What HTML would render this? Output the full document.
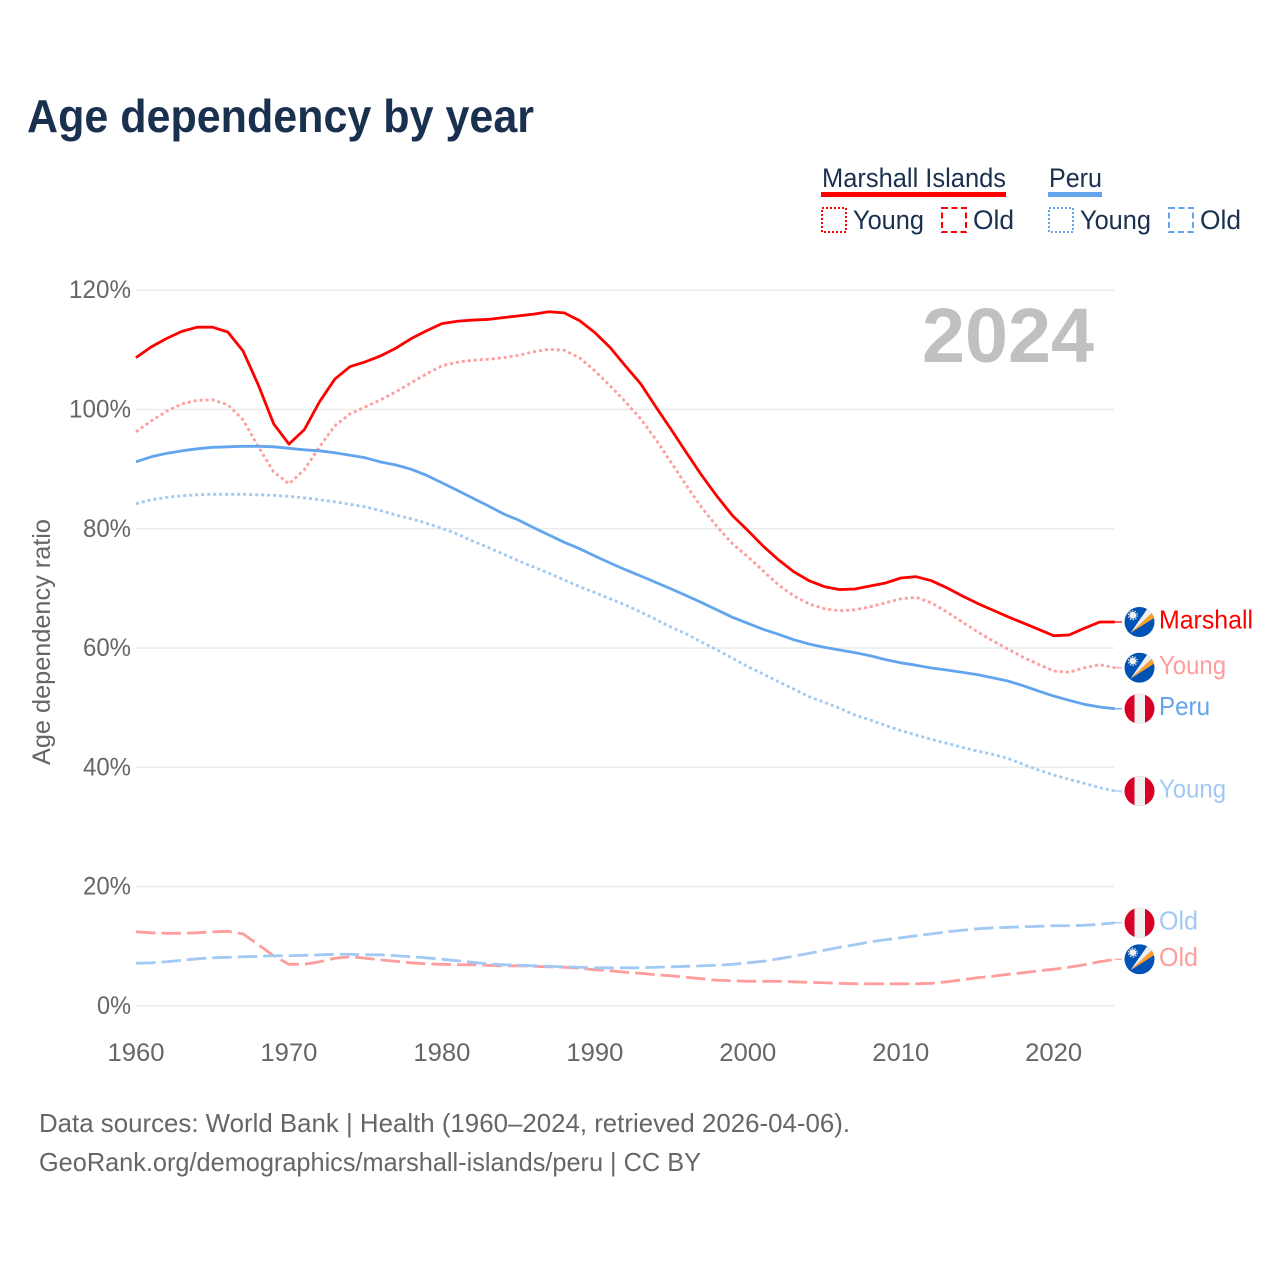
<!DOCTYPE html>
<html lang="en">
<head>
<meta charset="utf-8">
<title>Age dependency by year</title>
<style>
html,body{margin:0;padding:0;background:#fff;}
svg{display:block;}
text{font-family:"Liberation Sans",sans-serif;}
</style>
</head>
<body>
<svg id="chart" xmlns="http://www.w3.org/2000/svg" width="1280" height="1280" viewBox="0 0 1280 1280">
  <rect x="0" y="0" width="1280" height="1280" fill="#ffffff"/>
  <text x="27" y="132" font-size="46" font-weight="700" fill="#19304f" textLength="507" lengthAdjust="spacingAndGlyphs">Age dependency by year</text>

  <g>
    <text x="822" y="187" font-size="27" fill="#19304f" textLength="184" lengthAdjust="spacingAndGlyphs">Marshall Islands</text>
    <rect x="821" y="192" width="185" height="5" fill="#ff0000"/>
    <text x="1049" y="187" font-size="27" fill="#19304f" textLength="53" lengthAdjust="spacingAndGlyphs">Peru</text>
    <rect x="1048" y="192" width="54" height="5" fill="#62a5ee"/>
    <rect x="822" y="208" width="24" height="24" fill="none" stroke="#ff0000" stroke-width="2" stroke-dasharray="2,2"/>
    <text x="853" y="229" font-size="27" fill="#19304f" textLength="71" lengthAdjust="spacingAndGlyphs">Young</text>
    <rect x="942" y="208" width="24" height="24" fill="none" stroke="#ff0000" stroke-width="2" stroke-dasharray="6,3.5"/>
    <text x="973" y="229" font-size="27" fill="#19304f" textLength="41" lengthAdjust="spacingAndGlyphs">Old</text>
    <rect x="1049" y="208" width="24" height="24" fill="none" stroke="#62a5ee" stroke-width="2" stroke-dasharray="2,2"/>
    <text x="1080" y="229" font-size="27" fill="#19304f" textLength="71" lengthAdjust="spacingAndGlyphs">Young</text>
    <rect x="1169" y="208" width="24" height="24" fill="none" stroke="#62a5ee" stroke-width="2" stroke-dasharray="6,3.5"/>
    <text x="1200" y="229" font-size="27" fill="#19304f" textLength="41" lengthAdjust="spacingAndGlyphs">Old</text>
  </g>

  <text transform="translate(50,642) rotate(-90)" text-anchor="middle" font-size="25" fill="#666666" textLength="246" lengthAdjust="spacingAndGlyphs">Age dependency ratio</text>
  <g id="grid"></g>
  <g id="y-ticks"></g>
  <g id="x-ticks"></g>
  <text x="922" y="362" font-size="77" font-weight="700" fill="#c0c0c0" textLength="172" lengthAdjust="spacingAndGlyphs">2024</text>
  <g id="series"></g>
  <g id="ends"></g>

  <text x="39" y="1132" font-size="26" fill="#666666" textLength="811" lengthAdjust="spacingAndGlyphs">Data sources: World Bank | Health (1960–2024, retrieved 2026-04-06).</text>
  <text x="39" y="1171" font-size="26" fill="#666666" textLength="662" lengthAdjust="spacingAndGlyphs">GeoRank.org/demographics/marshall-islands/peru | CC BY</text>
</svg>

<script>
var years = [
  1960,1961,1962,1963,1964,1965,1966,1967,1968,1969,
  1970,1971,1972,1973,1974,1975,1976,1977,1978,1979,
  1980,1981,1982,1983,1984,1985,1986,1987,1988,1989,
  1990,1991,1992,1993,1994,1995,1996,1997,1998,1999,
  2000,2001,2002,2003,2004,2005,2006,2007,2008,2009,
  2010,2011,2012,2013,2014,2015,2016,2017,2018,2019,
  2020,2021,2022,2023,2024];
var yTickValues = [0,20,40,60,80,100,120];
var xTickValues = [1960,1970,1980,1990,2000,2010,2020];
var marshallTotal = [
  108.7,110.5,111.9,113.1,113.8,113.8,113.0,109.8,104.1,97.6,
  94.2,96.6,101.3,105.1,107.2,108.0,109.0,110.3,111.9,113.2,
  114.4,114.8,115.0,115.1,115.4,115.7,116.0,116.4,116.2,114.9,
  112.9,110.4,107.3,104.3,100.4,96.6,92.7,88.9,85.4,82.2,
  79.7,77.1,74.8,72.8,71.3,70.3,69.8,69.9,70.4,70.9,
  71.74,71.96,71.29,70.12,68.77,67.5,66.38,65.25,64.2,63.14,
  62.07,62.18,63.31,64.36,64.36];
var marshallYoung = [
  96.26,98.10,99.70,100.95,101.54,101.63,100.79,98.27,93.74,89.55,
  87.54,89.89,93.74,97.27,99.28,100.45,101.63,102.97,104.48,105.99,
  107.33,107.92,108.25,108.42,108.67,109.09,109.68,110.10,109.93,108.67,
  106.49,103.97,101.29,98.44,94.92,91.06,87.20,83.51,80.33,77.48,
  75.30,72.95,70.60,68.76,67.42,66.58,66.24,66.41,66.91,67.58,
  68.25,68.50,67.58,66.07,64.40,62.74,61.23,59.84,58.44,57.27,
  56.15,55.93,56.70,57.20,56.70];
var marshallOld = [
  12.41,12.24,12.16,12.16,12.24,12.41,12.49,12.07,10.23,8.39,
  6.96,6.96,7.38,7.97,8.22,7.97,7.71,7.46,7.21,7.04,
  6.96,6.88,6.88,6.79,6.71,6.71,6.62,6.54,6.46,6.29,
  6.04,5.87,5.62,5.45,5.20,5.03,4.78,4.53,4.28,4.19,
  4.11,4.11,4.11,4.02,3.94,3.86,3.77,3.69,3.69,3.69,
  3.69,3.69,3.77,4.02,4.36,4.70,4.95,5.28,5.53,5.87,
  6.12,6.46,6.88,7.38,7.80];
var peruTotal = [
  91.23,92.07,92.65,93.07,93.41,93.66,93.74,93.83,93.83,93.74,
  93.49,93.24,93.07,92.74,92.32,91.90,91.20,90.69,89.97,88.96,
  87.72,86.45,85.16,83.87,82.53,81.47,80.18,78.95,77.73,76.66,
  75.43,74.26,73.13,72.08,70.99,69.90,68.77,67.60,66.38,65.15,
  64.15,63.14,62.30,61.40,60.67,60.12,59.67,59.22,58.71,58.06,
  57.52,57.12,56.65,56.31,55.93,55.53,55.02,54.47,53.68,52.79,
  51.95,51.23,50.56,50.11,49.82];
var peruYoung = [
  84.19,84.86,85.28,85.53,85.69,85.78,85.78,85.78,85.69,85.61,
  85.44,85.19,84.86,84.52,84.10,83.68,83.03,82.31,81.67,80.92,
  80.08,79.12,77.95,76.89,75.77,74.64,73.59,72.53,71.41,70.28,
  69.31,68.25,67.21,66.04,64.78,63.47,62.35,60.96,59.67,58.28,
  56.87,55.64,54.35,53.13,51.84,50.90,49.89,48.77,47.93,47.01,
  46.17,45.41,44.69,44.02,43.35,42.73,42.18,41.51,40.50,39.54,
  38.71,37.98,37.31,36.58,36.02];
var peruOld = [
  7.13,7.21,7.38,7.63,7.88,8.05,8.13,8.22,8.30,8.39,
  8.39,8.47,8.55,8.64,8.64,8.55,8.55,8.39,8.22,8.05,
  7.80,7.55,7.29,7.04,6.88,6.79,6.71,6.62,6.54,6.46,
  6.37,6.37,6.37,6.37,6.46,6.54,6.62,6.71,6.79,6.96,
  7.21,7.46,7.88,8.30,8.80,9.31,9.81,10.23,10.73,11.07,
  11.40,11.74,12.07,12.41,12.66,12.91,13.08,13.16,13.25,13.33,
  13.42,13.42,13.50,13.67,13.92];

var NS = 'http://www.w3.org/2000/svg';
function xScale(year){ return 136 + (year - 1960) * 15.295; }
function yScale(pct){ return 1005.8 - pct * 5.963; }
function make(tag, attrs, parent){
  var el = document.createElementNS(NS, tag);
  for (var k in attrs) el.setAttribute(k, attrs[k]);
  parent.appendChild(el);
  return el;
}

var grid = document.getElementById('grid');
var yTicksGroup = document.getElementById('y-ticks');
yTickValues.forEach(function(v){
  var line = make('line', {x1:136, x2:1114, y1:yScale(v), y2:yScale(v), stroke:'#ebebeb', 'stroke-width':1.6}, grid);
  
  
  var label = make('text', {x:131, y:yScale(v) + 8, 'text-anchor':'end', 'font-size':25, fill:'#666666', textLength:(String(v).length * 14 + 20), lengthAdjust:'spacingAndGlyphs'}, yTicksGroup);
  
  
  label.textContent = v + '%';
});

var xTicksGroup = document.getElementById('x-ticks');
xTickValues.forEach(function(v){
  var label = make('text', {x:xScale(v), y:1061, 'text-anchor':'middle', 'font-size':25, fill:'#666666', textLength:57, lengthAdjust:'spacingAndGlyphs'}, xTicksGroup);
  
  
  label.textContent = v;
});

var DOT = '3,3';
var DASH = '19.5,6';
var RED = '#ff0000', RED_L = '#ff9d9d', BLUE = '#62a5ee', BLUE_L = '#a1c9f4';

function drawLine(values, color, dash, name){
  var d = values.map(function(v, i){
    return (i ? 'L' : 'M') + xScale(years[i]).toFixed(2) + ' ' + yScale(v).toFixed(2);
  }).join(' ');
  var path = make('path', {d:d, fill:'none', stroke:color, 'stroke-width':2.8, 'stroke-linejoin':'round'}, document.getElementById('series'));
  if (dash) path.setAttribute('stroke-dasharray', dash);
  
  
}

drawLine(marshallOld, RED_L, DASH, 'line-marshall-old');
drawLine(peruOld, BLUE_L, DASH, 'line-peru-old');
drawLine(peruYoung, BLUE_L, DOT, 'line-peru-young');
drawLine(marshallYoung, RED_L, DOT, 'line-marshall-young');
drawLine(peruTotal, BLUE, null, 'line-peru-total');
drawLine(marshallTotal, RED, null, 'line-marshall-total');

var clipCount = 0;
function drawFlag(kind, cx, cy, name){
  var ends = document.getElementById('ends');
  var g = make('g', {}, ends);
  
  
  clipCount += 1;
  var clipId = 'flag-clip-' + clipCount;
  var clip = make('clipPath', {id:clipId}, g);
  make('circle', {cx:cx, cy:cy, r:15}, clip);
  var inner = make('g', {'clip-path':'url(#' + clipId + ')'}, g);
  if (kind === 'peru') {
    make('rect', {x:cx - 15, y:cy - 15, width:30, height:30, fill:'#d80027'}, inner);
    make('rect', {x:cx - 5, y:cy - 15, width:10.5, height:30, fill:'#f0f0f0'}, inner);
  } else {
    make('rect', {x:cx - 15, y:cy - 15, width:30, height:30, fill:'#0052b4'}, inner);
    make('polygon', {points:(cx - 9) + ',' + (cy + 11) + ' ' + (cx + 9) + ',' + (cy - 15) + ' ' + (cx + 12.5) + ',' + (cy - 9), fill:'#f0f0f0'}, inner);
    make('polygon', {points:(cx - 9) + ',' + (cy + 11) + ' ' + (cx + 12.5) + ',' + (cy - 9) + ' ' + (cx + 14.5) + ',' + (cy - 4), fill:'#ffa025'}, inner);
    make('circle', {cx:cx - 6.7, cy:cy - 6.7, r:3.4, fill:'#f0f0f0'}, inner);
    make('circle', {cx:cx - 6.7, cy:cy - 6.7, r:4.4, fill:'none', stroke:'#f0f0f0', 'stroke-width':1.2, 'stroke-dasharray':'1.4,1.4'}, inner);
  }
}

function drawEnd(values, kind, text, color, width, name){
  var y = yScale(values[values.length - 1]);
  var x0 = xScale(years[years.length - 1]);
  var connector = make('line', {x1:x0, x2:1122, y1:y, y2:y, stroke:color, 'stroke-width':1.5, opacity:0.85}, document.getElementById('ends'));
  
  
  drawFlag(kind, 1139.5, y, name + '-flag');
  var label = make('text', {x:1159, y:y + 6.5, 'font-size':26, fill:color, textLength:width, lengthAdjust:'spacingAndGlyphs'}, document.getElementById('ends'));
  
  
  label.textContent = text;
}

drawEnd(marshallTotal, 'marshall', 'Marshall', RED, 94, 'end-marshall-total');
drawEnd(marshallYoung, 'marshall', 'Young', RED_L, 67, 'end-marshall-young');
drawEnd(peruTotal, 'peru', 'Peru', BLUE, 51, 'end-peru-total');
drawEnd(peruYoung, 'peru', 'Young', BLUE_L, 67, 'end-peru-young');
drawEnd(peruOld, 'peru', 'Old', BLUE_L, 39, 'end-peru-old');
drawEnd(marshallOld, 'marshall', 'Old', RED_L, 39, 'end-marshall-old');
</script>
</body>
</html>
